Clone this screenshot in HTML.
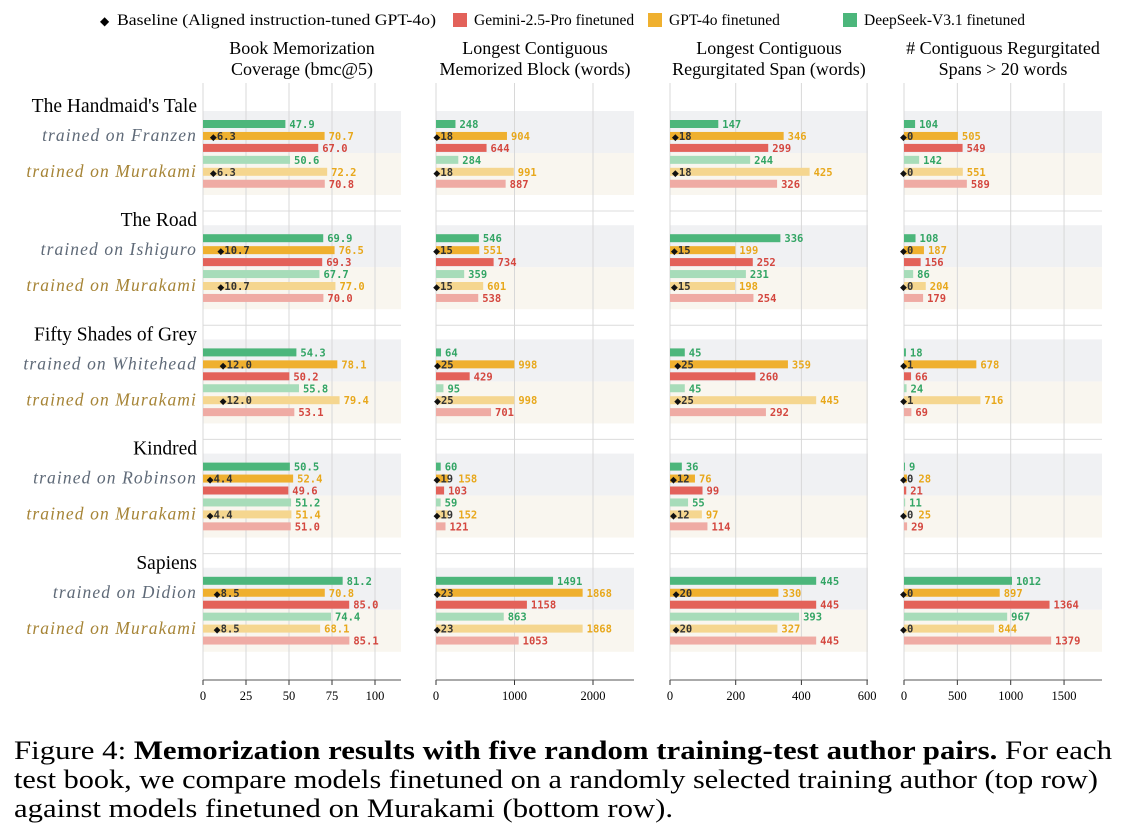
<!DOCTYPE html>
<html><head><meta charset="utf-8"><style>
body{margin:0;background:#fff;width:1131px;height:835px;overflow:hidden}
svg{display:block}
.serif{font-family:"Liberation Serif","DejaVu Serif",serif}
.mono{font-family:"DejaVu Sans Mono","Liberation Mono",monospace;font-weight:bold;font-size:10.5px}
</style></head><body>
<svg id="chart" width="1131" height="835"></svg>
<script>
const books=["The Handmaid's Tale","The Road","Fifty Shades of Grey","Kindred","Sapiens"];
const trainAuthors=["Franzen","Ishiguro","Whitehead","Robinson","Didion"];
const panelTitles=[["Book Memorization","Coverage (bmc@5)"],["Longest Contiguous","Memorized Block (words)"],["Longest Contiguous","Regurgitated Span (words)"],["# Contiguous Regurgitated","Spans > 20 words"]];
const panelTicks=[[0,25,50,75,100],[0,1000,2000],[0,200,400,600],[0,500,1000,1500]];
const deepseek=[
 [[47.9,50.6],[69.9,67.7],[54.3,55.8],[50.5,51.2],[81.2,74.4]],
 [[248,284],[546,359],[64,95],[60,59],[1491,863]],
 [[147,244],[336,231],[45,45],[36,55],[445,393]],
 [[104,142],[108,86],[18,24],[9,11],[1012,967]]];
const gpt=[
 [[70.7,72.2],[76.5,77.0],[78.1,79.4],[52.4,51.4],[70.8,68.1]],
 [[904,991],[551,601],[998,998],[158,152],[1868,1868]],
 [[346,425],[199,198],[359,445],[76,97],[330,327]],
 [[505,551],[187,204],[678,716],[28,25],[897,844]]];
const gemini=[
 [[67.0,70.8],[69.3,70.0],[50.2,53.1],[49.6,51.0],[85.0,85.1]],
 [[644,887],[734,538],[429,701],[103,121],[1158,1053]],
 [[299,326],[252,254],[260,292],[99,114],[445,445]],
 [[549,589],[156,179],[66,69],[21,29],[1364,1379]]];
const baseline=[
 ["6.3","10.7","12.0","4.4","8.5"],
 ["18","15","25","19","23"],
 ["18","15","25","12","20"],
 ["0","0","1","0","0"]];

const P=[{x0:203,x1:401},{x0:436,x1:634},{x0:670,x1:868},{x0:904,x1:1102}];
const scales=[v=>203+v*1.72, v=>436+v*0.0785, v=>670+v*0.3285, v=>904+v*0.1067];
const svg=document.getElementById('chart');
const NS='http://www.w3.org/2000/svg';
function el(t,a,txt){const e=document.createElementNS(NS,t);for(const k in a)e.setAttribute(k,a[k]);if(txt!==undefined)e.textContent=txt;svg.appendChild(e);return e;}
const C={g:'#4cb67b',o:'#efb02f',r:'#e3625a',lg:'#a7dcb9',lo:'#f5d68f',lr:'#efaba4',tg:'#33a565',to:'#e8a81c',tr:'#d4473f'};
const SG='spacingAndGlyphs';

let e;
el('text',{x:100,y:25,'font-size':12},'◆');
e=el('text',{x:117,y:25,class:'serif','font-size':16,textLength:319,lengthAdjust:SG},'Baseline (Aligned instruction-tuned GPT-4o)');

const leg=[[453,C.r,'Gemini-2.5-Pro finetuned',178],[648,C.o,'GPT-4o finetuned',150],[843,C.g,'DeepSeek-V3.1 finetuned',176]];
leg.forEach((l,i)=>{el('rect',{x:l[0],y:13,width:14,height:14,fill:l[1]});
 e=el('text',{x:l[0]+21,y:25,class:'serif','font-size':15.5},l[2]);
 });

panelTitles.forEach((t,p)=>{const cx=(P[p].x0+P[p].x1)/2;
 t.forEach((s,j)=>{e=el('text',{x:cx,y:54+j*21,'text-anchor':'middle',class:'serif','font-size':18},s);
 });});

const top0=111,pitch=114.2;
for(let p=0;p<4;p++){const pp=P[p],sx=scales[p];
 for(let b=0;b<5;b++){const t=top0+b*pitch;
  el('rect',{x:pp.x0,y:t,width:pp.x1-pp.x0,height:42,fill:'#f0f1f3'});
  el('rect',{x:pp.x0,y:t+42,width:pp.x1-pp.x0,height:42,fill:'#f9f6ef'});
  if(b<4) el('line',{x1:pp.x0,x2:pp.x1,y1:t+100,y2:t+100,stroke:'#dcdcdc','stroke-width':1});
 }
 panelTicks[p].forEach(v=>{const x=sx(v);
  el('line',{x1:x,x2:x,y1:83,y2:680,stroke:'#d8d8d8','stroke-width':1});
  el('line',{x1:x,x2:x,y1:680,y2:685,stroke:'#333','stroke-width':1});
  e=el('text',{x:x,y:700,'text-anchor':'middle',class:'serif','font-size':12.5},v);
  });
 el('line',{x1:pp.x0,x2:pp.x1,y1:680,y2:680,stroke:'#555','stroke-width':1});
}
for(let p=0;p<4;p++){const sx=scales[p];
 for(let b=0;b<5;b++){const t=top0+b*pitch;
  for(let r=0;r<2;r++){
   const series=[[deepseek[p][b][r],r?C.lg:C.g,C.tg,'deepseek'],[gpt[p][b][r],r?C.lo:C.o,C.to,'gpt4o'],[gemini[p][b][r],r?C.lr:C.r,C.tr,'gemini']];
   series.forEach((s,i)=>{const cy=t+13+(r*3+i)*11.95;const x0=sx(0),x1=sx(s[0]);
    e=el('rect',{x:x0,y:cy-4,width:Math.max(x1-x0,0.5),height:8,fill:s[1]});
    
    let lx=x1+4;
    if(i===1){const bv=parseFloat(baseline[p][b]);const bx=sx(bv);
     e=el('text',{x:bx-4,y:cy+4,'font-size':9,fill:'#111'},'◆');
     
     e=el('text',{x:bx+3,y:cy+4,class:'mono',fill:'#333'},baseline[p][b]);
     
     lx=Math.max(lx,bx+3+baseline[p][b].length*6.4+5);}
    e=el('text',{x:lx,y:cy+4,class:'mono',fill:s[2]},p===0?s[0].toFixed(1):String(s[0]));
    
   });
  }
 }
}
books.forEach((bk,b)=>{const t=top0+b*pitch;
 e=el('text',{x:197,y:t+1,'text-anchor':'end',class:'serif','font-size':19.5},bk);
 
 e=el('text',{x:197,y:t+30,'text-anchor':'end',class:'serif','font-size':17.5,'font-style':'italic','letter-spacing':'1.1',fill:'#5f6a78'},'trained on '+trainAuthors[b]);
 
 e=el('text',{x:197,y:t+66,'text-anchor':'end',class:'serif','font-size':17.5,'font-style':'italic','letter-spacing':'1.1',fill:'#a68436'},'trained on Murakami');
 
});
const cap=[['Figure 4:  ','Memorization results with five random training-test author pairs.',' For each'],['test book, we compare models finetuned on a randomly selected training author (top row)'],['against models finetuned on Murakami (bottom row).']];
const capW=[1098,1084,659];
cap.forEach((c,i)=>{e=el('text',{x:14,y:759+i*29,class:'serif','font-size':26,textLength:capW[i],lengthAdjust:SG});
 
 c.forEach((s,j)=>{const ts=document.createElementNS(NS,'tspan');ts.textContent=s;if(i===0&&j===1)ts.setAttribute('font-weight','bold');e.appendChild(ts);});});
</script>
</body></html>
